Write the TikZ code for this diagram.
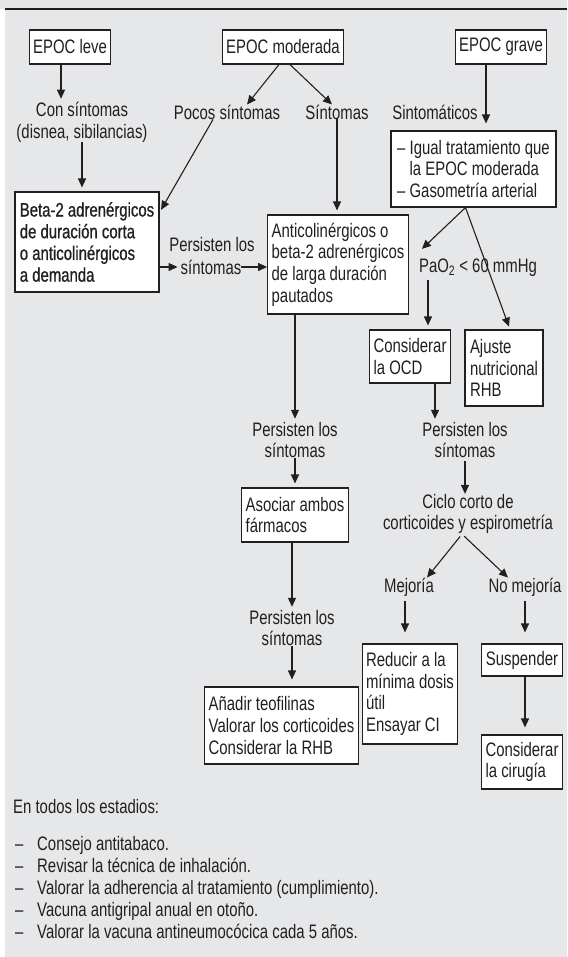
\documentclass[tikz,border=0pt]{standalone}
\usepackage{fontspec}
\setmainfont{Liberation Sans}[FakeStretch=0.765]
\newfontfamily\betafont{Liberation Sans}[FakeStretch=0.765,FakeBold=0.8]
\usetikzlibrary{arrows.meta}
\definecolor{bg}{HTML}{E6E7E8}
\definecolor{ink}{HTML}{231F20}
\begin{document}
\begin{tikzpicture}[x=1pt,y=-1pt,
  every node/.style={font=\fontsize{19.5}{21.7}\selectfont, text=ink, inner sep=0pt},
  box/.style={draw=ink, line width=1.1pt, fill=white, inner xsep=4pt, inner ysep=3pt, align=left},
  lbl/.style={align=center},
  arr/.style={draw=ink, line width=1.1pt, -{Triangle[length=9pt,width=8pt]}}]
\useasboundingbox (0,0) rectangle (567,957);
\fill[white] (0,0) rectangle (567,957);
\fill[bg] (5,0) rectangle (567,957);
\fill[bg] (0,0) rectangle (5,9);
\draw[ink, line width=2.5pt] (5,9) -- (567,9);

% top boxes
\node[box, minimum height=34pt] (leve) at (70,47) {EPOC leve};
\node[box, minimum height=34pt] (moder) at (283,47) {EPOC moderada};
\node[box, minimum height=34pt] (grave) at (501,47) {EPOC grave};

% second row labels
\node[lbl] (conS) at (82,122) {Con síntomas\\(disnea, sibilancias)};
\node[lbl] (pocos) at (227,112) {Pocos síntomas};
\node[lbl] (sint) at (337,112) {Síntomas};
\node[lbl] (sintom) at (435,112) {Sintomáticos};

% boxes
\node[box, minimum width=144pt, minimum height=100pt, font=\fontsize{19.5}{21.7}\betafont] (beta) at (87,242) {Beta-2 adrenérgicos\\de duración corta\\o anticolinérgicos\\a demanda};
\node[lbl] (p1a) at (212,245) {Persisten los};
\node[lbl] (p1b) at (211,267) {síntomas};
\node[box, minimum width=138pt, minimum height=99pt] (anti) at (338,264.5) {Anticolinérgicos o\\beta-2 adrenérgicos\\de larga duración\\pautados};
\node[box, minimum width=165pt, minimum height=76pt] (igual) at (473.5,169) {– Igual tratamiento que\\\hphantom{– }la EPOC moderada\\– Gasometría arterial};
\node[lbl] (pao) at (478,268) {PaO\textsubscript{2} < 60 mmHg};
\node[box, minimum width=76pt, minimum height=53pt] (ocd) at (410,356.5) {Considerar\\la OCD};
\node[box, minimum width=78pt, minimum height=76pt] (ajuste) at (504,368) {Ajuste\\nutricional\\RHB};
\node[lbl] (p2a) at (465,440) {Persisten los\\síntomas};
\node[lbl] (pm1) at (295,440) {Persisten los\\síntomas};
\node[box, minimum width=102pt, minimum height=54pt] (asoc) at (295,515) {Asociar ambos\\fármacos};
\node[lbl] (pm2) at (292,628) {Persisten los\\síntomas};
\node[box, minimum width=151pt, minimum height=77pt] (anadir) at (281.5,725.5) {Añadir teofilinas\\Valorar los corticoides\\Considerar la RHB};
\node[lbl] (ciclo) at (468,514) {Ciclo corto de\\corticoides y espirometría};
\node[lbl] (mej) at (409,587) {Mejoría};
\node[lbl] (nomej) at (525,587) {No mejoría};
\node[box, minimum width=94pt, minimum height=100pt] (reduc) at (410,694) {Reducir a la\\mínima dosis\\útil\\Ensayar CI};
\node[box, minimum width=76pt, minimum height=32pt] (susp) at (522,660) {Suspender};
\node[box, minimum width=76pt, minimum height=54pt] (cirug) at (522,762) {Considerar\\la cirugía};

% footer
\node[anchor=west] (todos) at (13,807) {En todos los estadios:};
\node[anchor=north west, align=left, font=\fontsize{19.5}{22}\selectfont] (lista) at (15,836) {%
\makebox[22pt][l]{–}Consejo antitabaco.\\
\makebox[22pt][l]{–}Revisar la técnica de inhalación.\\
\makebox[22pt][l]{–}Valorar la adherencia al tratamiento (cumplimiento).\\
\makebox[22pt][l]{–}Vacuna antigripal anual en otoño.\\
\makebox[22pt][l]{–}Valorar la vacuna antineumocócica cada 5 años.};

% connectors
\coordinate (a1) at ([xshift=-9pt]leve.south);
\draw[arr, shorten >=3pt] (a1) -- (a1 |- conS.north);
\draw[arr] ([xshift=-4pt]moder.south) -- ([xshift=20pt]pocos.north);
\draw[arr] ([xshift=7pt]moder.south) -- ([xshift=-5pt]sint.north);
\coordinate (a2) at ([xshift=-15pt]grave.south);
\draw[arr, shorten >=7pt] (a2) -- (a2 |- igual.north);
\draw[arr, shorten >=4pt] (conS.south) -- (conS.south |- beta.north);
\draw[arr, shorten >=3pt] ([xshift=-14pt]pocos.south) -- ([yshift=-21pt]beta.north east);
\draw[arr, shorten >=3pt] (beta.east |- p1b.west) -- (p1b.west);
\draw[arr] (p1b.east) -- (anti.west |- p1b.east);
\draw[arr, shorten >=4pt] (sint.south) -- (sint.south |- anti.north);
\draw[arr, shorten >=3pt] (pm1.north |- anti.south) -- (pm1.north);
\draw[arr, shorten >=4pt] (pm1.south) -- (pm1.south |- asoc.north);
\draw[arr, shorten >=3pt] (pm2.north |- asoc.south) -- (pm2.north);
\draw[arr, shorten >=7pt] (pm2.south) -- (pm2.south |- anadir.north);
\coordinate (g1) at ([xshift=-8pt]igual.south);
\draw[arr] (g1) -- ([shift={(3pt,10pt)}]pao.north west);
\draw[arr, shorten >=3pt] (g1) -- ([xshift=6pt]ajuste.north);
\coordinate (o1) at ([xshift=18pt]ocd.north);
\draw[arr, shorten <=3pt, shorten >=4pt] (o1 |- pao.south) -- (o1);
\coordinate (o2) at ([xshift=25pt]ocd.south);
\draw[arr, shorten >=3pt] (o2) -- (o2 |- p2a.north);
\draw[arr, shorten <=3pt] (p2a.south) -- (p2a.south |- ciclo.north);
\draw[arr, shorten <=3pt] ([xshift=-6pt]ciclo.south) -- ([xshift=18pt]mej.north);
\draw[arr, shorten <=3pt] ([xshift=-6pt]ciclo.south) -- ([xshift=-17pt]nomej.north);
\coordinate (c1) at ([xshift=-4pt]mej.south);
\draw[arr, shorten <=5pt, shorten >=11pt] (c1) -- (c1 |- reduc.north);
\draw[arr, shorten <=5pt, shorten >=11pt] (nomej.south) -- (nomej.south |- susp.north);
\coordinate (c2) at ([xshift=3pt]susp.south);
\draw[arr, shorten >=7pt] (c2) -- (c2 |- cirug.north);
\end{tikzpicture}
\end{document}
